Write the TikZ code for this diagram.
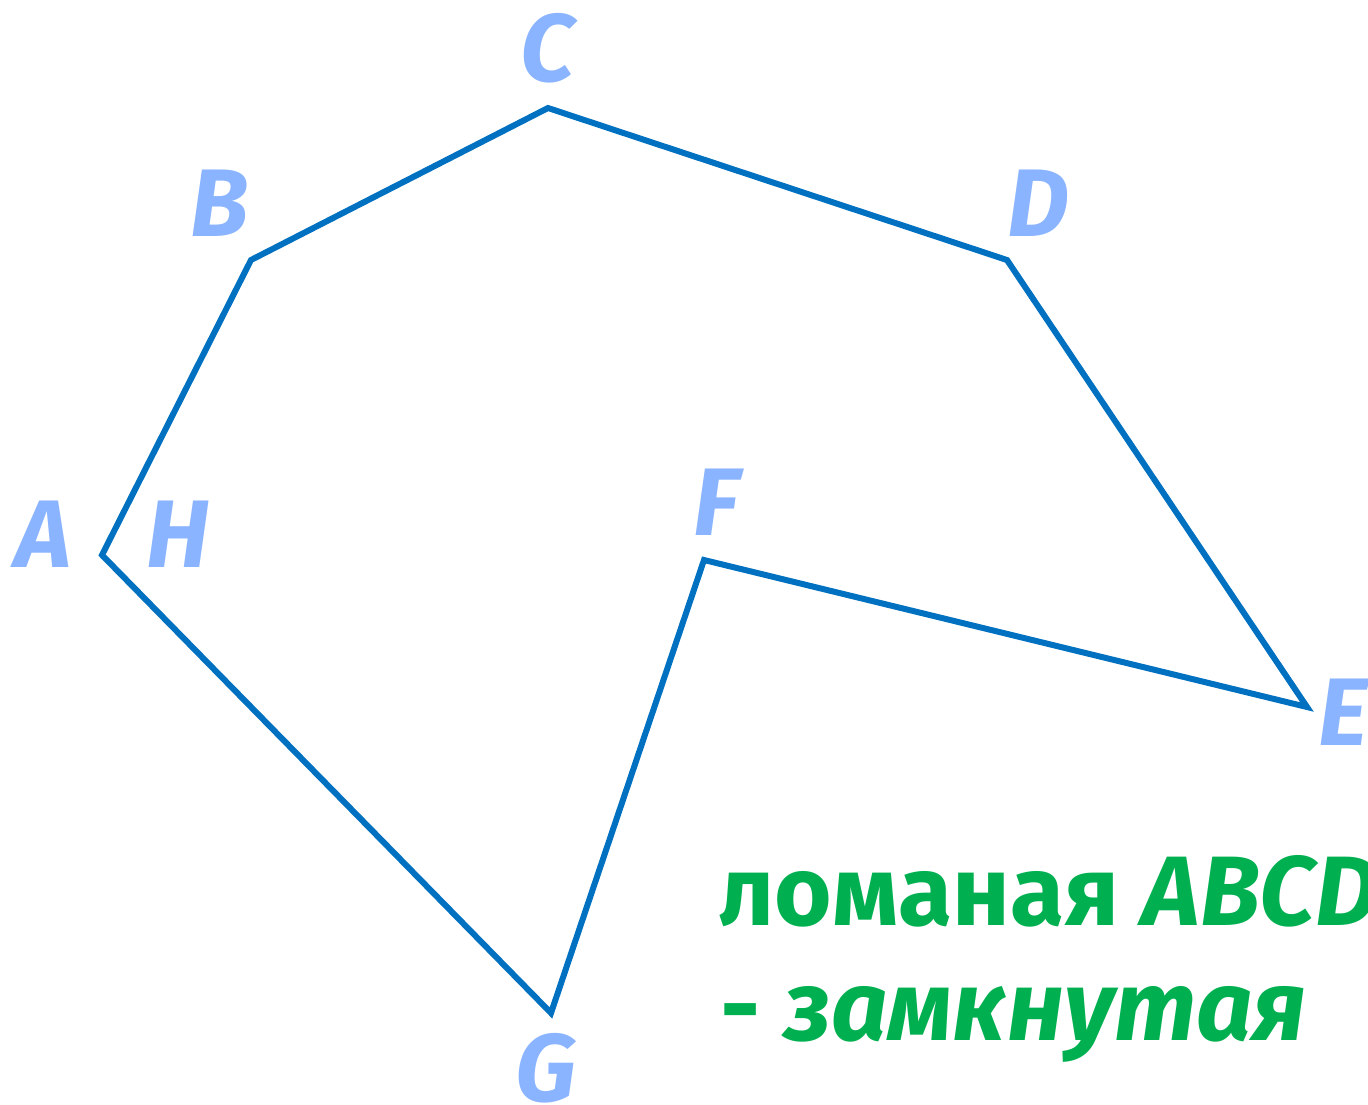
\documentclass[tikz,border=0pt]{standalone}
\usepackage{fontspec}
\setmainfont{Fira Sans}
\definecolor{lineblue}{HTML}{0070C0}
\definecolor{lblblue}{HTML}{8AB4FF}
\definecolor{txtgreen}{HTML}{00B050}
\begin{document}
\begin{tikzpicture}[x=0.75pt,y=-0.75pt,
  poly/.style={draw=lineblue,line width=4.5pt,line join=miter},
  vlabel/.style={text=lblblue,font=\fontsize{72}{80}\selectfont\bfseries\itshape,inner sep=0pt,anchor=base},
  caption/.style={text=txtgreen,font=\fontsize{74}{84}\selectfont\bfseries,inner sep=0pt,anchor=base west}]
\useasboundingbox (0,0) rectangle (1368,1104);
\clip (0,0) rectangle (1368,1104);
\coordinate (A) at (102,555);
\coordinate (B) at (251,260);
\coordinate (C) at (548,108);
\coordinate (D) at (1007,260);
\coordinate (E) at (1307,707);
\coordinate (F) at (704,560);
\coordinate (G) at (551,1013);
\draw[poly] (A) -- (B) -- (C) -- (D) -- (E) -- (F) -- (G) -- cycle;
\node[vlabel] (lA) at (43,567) {A};
\node[vlabel] (lH) at (178,567) {H};
\node[vlabel] (lB) at (220,236) {B};
\node[vlabel] (lC) at (548,81) {C};
\node[vlabel] (lD) at (1038,236) {D};
\node[vlabel,anchor=base west] (lE) at (1318,745) {E};
\node[vlabel] (lF) at (716,535) {F};
\node[vlabel] (lG) at (546,1101) {G};
\node[caption] (t1) at (718,925) {ломаная \textit{ABCD}};
\node[caption] (t2) at (720,1040) {- \textit{замкнутая}};
\end{tikzpicture}
\end{document}
